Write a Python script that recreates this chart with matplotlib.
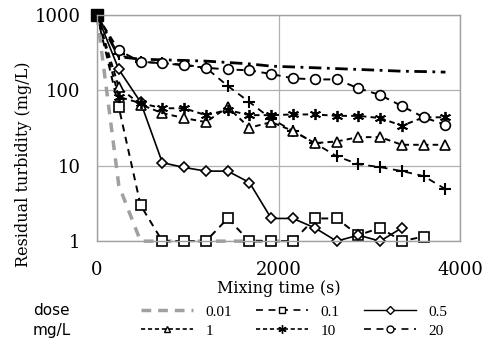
import numpy as np
import matplotlib
matplotlib.use("Agg")
import matplotlib.pyplot as plt
from matplotlib.lines import Line2D

plt.rcParams['lines.scale_dashes'] = False

# mixing times (s)
t = [0, 240, 480, 720, 960, 1200, 1440, 1680, 1920, 2160, 2400, 2640, 2880, 3120, 3360, 3600, 3840]

# residual turbidity (mg/L) per dose
d001 = [1000, 5.5, 1, 1, 1, 1, 1, 1, 1, 1]
d01 = [1000, 60, 3, 1, 1, 1, 2, 1, 1, 1, 2, 2, 1.2, 1.5, 1, 1.15]
d05 = [1000, 190, 70, 11, 9.5, 8.5, 8.5, 6, 2, 2, 1.5, 1, 1.2, 1, 1.5]
d1 = [1000, 110, 65, 50, 43, 38, 60, 32, 38, 29, 20, 21, 24, 24, 19, 19, 19]
d10 = [1000, 82, 68, 58, 58, 47, 55, 47, 47, 48, 48, 46, 46, 43, 34, 44, 44]
d20 = [1000, 340, 240, 230, 220, 200, 190, 185, 165, 145, 140, 140, 107, 87, 62, 44, 35]
dplus = [1000, 300, 240, 230, 215, 200, 115, 70, 42, 29, 20, 13.4, 10.5, 9.6, 8.5, 7.3, 4.9]
ddash = [1000, 280, 260, 255, 250, 245, 235, 225, 210, 205, 200, 195, 190, 185, 180, 178, 175]

fig = plt.figure(figsize=(5, 3.51), dpi=100)
ax = fig.add_axes([0.194, 0.313, 0.726, 0.644])

mk = dict(markerfacecolor='white', markeredgecolor='black', markeredgewidth=1.2, clip_on=False)

ax.plot(t[:len(ddash)], ddash, color='black', lw=2.0, dashes=(9, 4, 2, 4), clip_on=False)
ax.plot(t[:len(dplus)], dplus, color='black', lw=1.3, dashes=(5, 4), marker='+',
        markersize=8, markeredgewidth=1.5, clip_on=False)
ax.plot(t[:len(d001)], d001, color='#a0a0a0', lw=2.5, dashes=(7, 6), clip_on=False)
ax.plot(t[:len(d01)], d01, color='black', lw=1.4, dashes=(5, 4), marker='s', markersize=7, **mk)
ax.plot(t[:len(d05)], d05, color='black', lw=1.2, marker='D', markersize=5.5, **mk)
ax.plot(t[:len(d1)], d1, color='black', lw=1.4, dashes=(4, 3), marker='^', markersize=7, **mk)
ax.plot(t[:len(d10)], d10, color='black', lw=1.4, dashes=(4, 3), marker=(6, 2, 0),
        markersize=8, markeredgewidth=1.3, clip_on=False)
ax.plot(t[:len(d20)], d20, color='black', lw=1.4, dashes=(5, 4), marker='o', markersize=7, **mk)
# start point drawn as a filled block, as all series overlap there
ax.plot(t[:1], d01[:1], marker='s', markersize=8, color='black', clip_on=False)

ax.set_yscale('log')
ax.set_ylim(1, 1000)
ax.set_xlim(0, 4000)
ax.set_xticks([0, 2000, 4000])
ax.set_yticks([1, 10, 100, 1000])
ax.set_yticklabels(['1', '10', '100', '1000'])
ax.minorticks_off()
ax.tick_params(axis='y', length=0, pad=12, labelsize=13)
ax.tick_params(axis='x', length=0, pad=14, labelsize=13)
for lab in ax.get_xticklabels() + ax.get_yticklabels():
    lab.set_family('DejaVu Serif')
ax.grid(True, color='#b0b0b0', lw=0.9)
ax.set_axisbelow(True)
for s in ax.spines.values():
    s.set_color('#a0a0a0')
    s.set_linewidth(1.0)

ax.set_xlabel('Mixing time (s)', family='DejaVu Serif', fontsize=11.5, labelpad=1)
ax.set_ylabel('Residual turbidity (mg/L)', family='DejaVu Serif', fontsize=11.5)
ax.yaxis.set_label_coords(-0.18, 0.34)

# legend
def h(**kw):
    return Line2D([], [], color='black', **kw)

lm = dict(markerfacecolor='white', markeredgecolor='black', markersize=5)
handles = [
    Line2D([], [], color='#a0a0a0', lw=2.5, dashes=(7, 5)),
    h(lw=1.2, dashes=(3, 2), marker='^', **lm),
    h(lw=1.2, dashes=(5, 4), marker='s', **lm),
    h(lw=1.2, dashes=(3, 2), marker=(6, 2, 0), markersize=6),
    h(lw=1.0, marker='D', markerfacecolor='white', markeredgecolor='black', markersize=4),
    h(lw=1.2, dashes=(5, 4), marker='o', **lm),
]
labels = ['0.01', '1', '0.1', '10', '0.5', '20']
fig.legend(handles, labels, ncol=3, loc='upper left', bbox_to_anchor=(0.255, 0.17),
           frameon=False, handlelength=3.4, handletextpad=0.8, columnspacing=1.6,
           labelspacing=0.35, prop={'family': 'Liberation Serif', 'size': 11})
fig.text(0.066, 0.114, 'dose', fontsize=11, va='center')
fig.text(0.066, 0.058, 'mg/L', fontsize=11, va='center')

fig.savefig('out.png', dpi=100)
